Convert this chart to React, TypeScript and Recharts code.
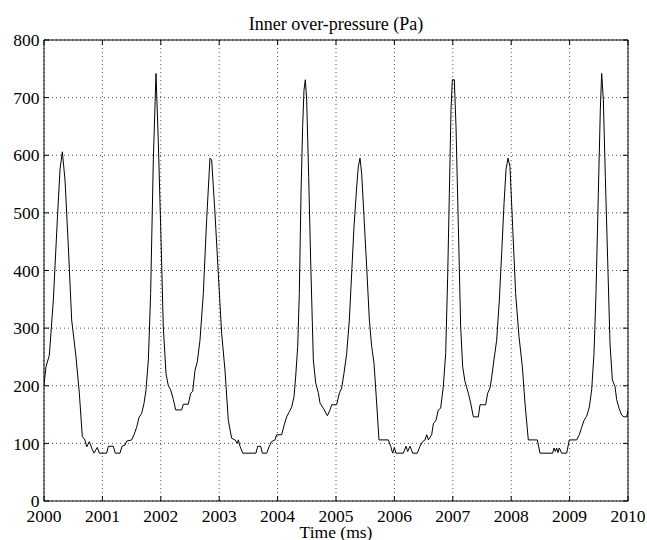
import React from 'react';
import { LineChart, Line, XAxis, YAxis, CartesianGrid } from 'recharts';

const timeMs = [
  2000.000, 2000.034, 2000.091, 2000.160, 2000.228, 2000.274, 2000.314, 2000.360, 2000.417, 2000.474,
  2000.548, 2000.605, 2000.656, 2000.702, 2000.731, 2000.776, 2000.816, 2000.856, 2000.913, 2000.947,
  2001.073, 2001.102, 2001.187, 2001.221, 2001.301, 2001.336, 2001.387, 2001.416, 2001.501, 2001.541,
  2001.587, 2001.627, 2001.672, 2001.712, 2001.747, 2001.787, 2001.826, 2001.872, 2001.918, 2001.958,
  2001.998, 2002.043, 2002.089, 2002.129, 2002.169, 2002.215, 2002.255, 2002.357, 2002.386, 2002.471,
  2002.511, 2002.546, 2002.586, 2002.626, 2002.671, 2002.728, 2002.785, 2002.842, 2002.871, 2002.928,
  2002.985, 2003.042, 2003.099, 2003.156, 2003.213, 2003.271, 2003.310, 2003.328, 2003.356, 2003.402,
  2003.630, 2003.659, 2003.710, 2003.739, 2003.813, 2003.858, 2003.898, 2003.955, 2003.984, 2004.070,
  2004.110, 2004.155, 2004.201, 2004.241, 2004.281, 2004.309, 2004.344, 2004.372, 2004.401, 2004.429,
  2004.452, 2004.475, 2004.498, 2004.532, 2004.566, 2004.612, 2004.652, 2004.697, 2004.726, 2004.783,
  2004.852, 2004.897, 2004.926, 2005.011, 2005.057, 2005.097, 2005.137, 2005.183, 2005.228, 2005.268,
  2005.308, 2005.354, 2005.382, 2005.411, 2005.439, 2005.479, 2005.525, 2005.571, 2005.611, 2005.651,
  2005.696, 2005.736, 2005.896, 2005.936, 2005.970, 2005.999, 2006.027, 2006.153, 2006.199, 2006.227,
  2006.267, 2006.313, 2006.393, 2006.438, 2006.484, 2006.524, 2006.553, 2006.581, 2006.638, 2006.667,
  2006.712, 2006.752, 2006.792, 2006.838, 2006.878, 2006.912, 2006.941, 2006.969, 2006.992, 2007.026,
  2007.055, 2007.095, 2007.135, 2007.169, 2007.209, 2007.266, 2007.306, 2007.352, 2007.437, 2007.466,
  2007.563, 2007.597, 2007.637, 2007.666, 2007.705, 2007.751, 2007.797, 2007.837, 2007.877, 2007.911,
  2007.945, 2007.979, 2008.025, 2008.076, 2008.134, 2008.191, 2008.236, 2008.293, 2008.447, 2008.493,
  2008.710, 2008.733, 2008.756, 2008.779, 2008.801, 2008.824, 2008.864, 2008.950, 2008.995, 2009.121,
  2009.167, 2009.207, 2009.247, 2009.292, 2009.338, 2009.378, 2009.418, 2009.452, 2009.492, 2009.526,
  2009.549, 2009.578, 2009.612, 2009.652, 2009.692, 2009.732, 2009.777, 2009.806, 2009.846, 2009.892,
  2009.932, 2009.977, 2010.000,
];

const pressurePa = [
  201, 233, 253, 349, 488, 575, 606, 557, 441, 314,
  250, 187, 112, 106, 94, 103, 92, 83, 93, 83,
  83, 95, 95, 83, 83, 95, 97, 104, 106, 115,
  128, 145, 152, 169, 193, 245, 360, 592, 742, 621,
  476, 302, 221, 200, 193, 176, 158, 158, 168, 168,
  187, 190, 227, 242, 279, 360, 488, 595, 592, 499,
  394, 291, 227, 140, 109, 106, 100, 106, 95, 83,
  83, 95, 95, 83, 83, 95, 103, 106, 115, 115,
  131, 146, 155, 163, 181, 215, 268, 360, 534, 650,
  713, 731, 696, 563, 418, 245, 205, 188, 170, 161,
  148, 158, 167, 167, 187, 196, 222, 256, 314, 394,
  476, 545, 580, 595, 569, 494, 407, 314, 268, 239,
  170, 106, 106, 95, 83, 93, 83, 83, 95, 86,
  95, 83, 83, 95, 103, 106, 115, 106, 115, 134,
  140, 158, 161, 199, 256, 389, 534, 679, 731, 731,
  650, 476, 302, 233, 207, 187, 170, 146, 146, 167,
  167, 187, 196, 215, 245, 279, 349, 430, 516, 575,
  595, 580, 476, 360, 285, 233, 170, 106, 106, 83,
  83, 92, 86, 92, 84, 92, 83, 83, 106, 106,
  115, 128, 140, 147, 163, 193, 256, 360, 534, 679,
  742, 696, 563, 418, 273, 210, 199, 176, 161, 149,
  146, 146, 158,
];

const xTicks = [2000, 2001, 2002, 2003, 2004, 2005, 2006, 2007, 2008, 2009, 2010];
const yTicks = [0, 100, 200, 300, 400, 500, 600, 700, 800];
const chartTitle = 'Inner over-pressure (Pa)';
const xAxisTitle = 'Time (ms)';

const data = timeMs.map((t, i) => ({ t, p: pressurePa[i] }));

const FONT = "'Liberation Serif', 'Times New Roman', Times, serif";
const tickStyle = { fontFamily: FONT, fontSize: 17.5, fill: '#000' };
const blank = () => '';

const css = `
.chart-root svg text, .chart-root .recharts-text { font-family: ${FONT} !important; fill: #000; }
`;

export default function App() {
  return (
    <div className="chart-root" style={{ position: 'absolute', left: 0, top: 0, width: 647, height: 540, background: '#fff', fontFamily: FONT }}>
      <style>{css}</style>
      <LineChart width={647} height={540} data={data} margin={{ top: 39, right: 18, bottom: 0, left: 0 }} style={{ fontFamily: FONT }}>
        <CartesianGrid xAxisId="b" yAxisId="l" stroke="#222" strokeDasharray="1 3" strokeWidth={0.8} />
        <XAxis
          xAxisId="b"
          dataKey="t"
          type="number"
          domain={[2000, 2010]}
          ticks={xTicks}
          interval={0}
          allowDataOverflow
          height={39}
          tickSize={-5}
          tickMargin={13.6}
          tick={tickStyle}
          stroke="#000"
          label={{ value: xAxisTitle, position: 'insideBottom', offset: 2, fontFamily: FONT, fontSize: 17.5, fill: '#000' }}
        />
        <XAxis
          xAxisId="t"
          orientation="top"
          dataKey="t"
          type="number"
          domain={[2000, 2010]}
          ticks={xTicks}
          interval={0}
          allowDataOverflow
          height={1}
          tickSize={-5}
          tickFormatter={blank}
          stroke="#000"
          label={{ value: chartTitle, position: 'top', offset: 9.5, fontFamily: FONT, fontSize: 18, fill: '#000' }}
        />
        <YAxis
          yAxisId="l"
          domain={[0, 800]}
          ticks={yTicks}
          interval={0}
          allowDataOverflow
          width={44}
          tickSize={-5}
          tickMargin={9.5}
          tick={tickStyle}
          stroke="#000"
        />
        <YAxis
          yAxisId="r"
          orientation="right"
          domain={[0, 800]}
          ticks={yTicks}
          interval={0}
          allowDataOverflow
          width={1}
          tickSize={-5}
          tickFormatter={blank}
          stroke="#000"
        />
        <Line
          xAxisId="b"
          yAxisId="l"
          dataKey="p"
          type="linear"
          stroke="#000"
          strokeWidth={1}
          dot={false}
          isAnimationActive={false}
        />
      </LineChart>
    </div>
  );
}
